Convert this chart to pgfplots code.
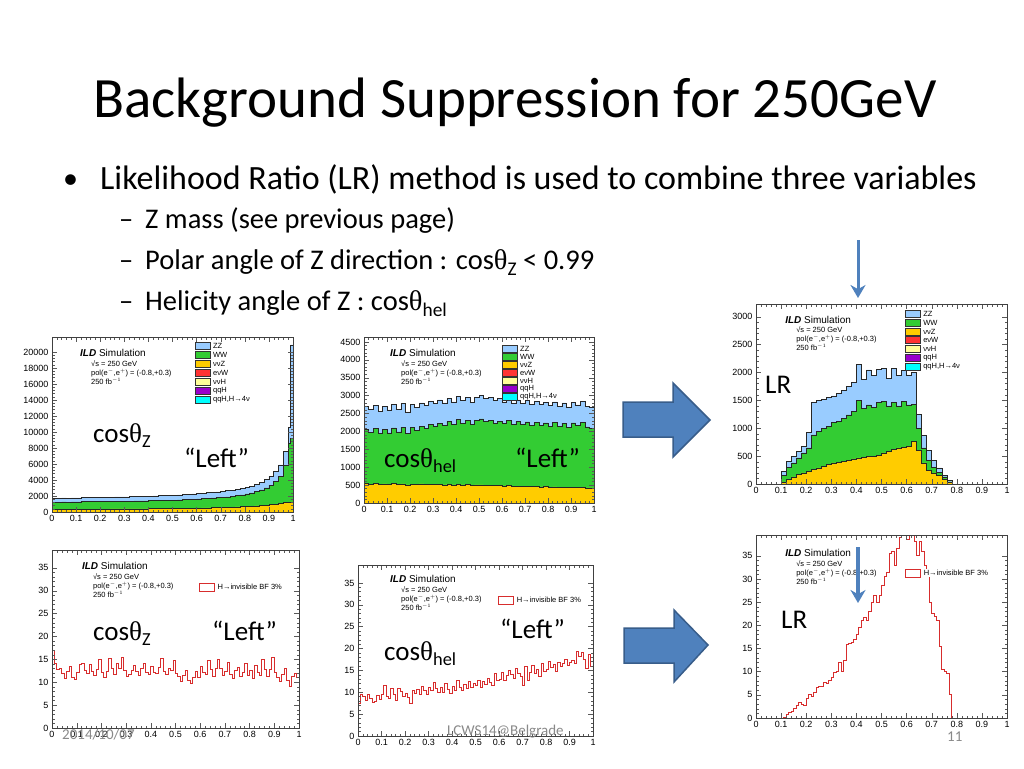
\documentclass[border=0pt]{standalone}
\usepackage{pgfplots}
\pgfplotsset{compat=1.18}
\usepackage{pgfplotstable}
\usepackage{graphicx}
\usepackage{fontspec}
\setmainfont{Carlito}
\newfontfamily\rootfont{Liberation Sans}
\newfontfamily\symfont{Liberation Serif}
\usetikzlibrary{arrows.meta}

\definecolor{zzc}{RGB}{153,204,255}
\definecolor{wwc}{RGB}{51,204,51}
\definecolor{vvzc}{RGB}{255,204,0}
\definecolor{evwc}{RGB}{255,51,51}
\definecolor{vvhc}{RGB}{255,255,153}
\definecolor{qqhc}{RGB}{153,0,204}
\definecolor{qq4c}{RGB}{0,255,255}
\definecolor{sigc}{RGB}{215,45,45}
\definecolor{arrowc}{RGB}{79,129,189}
\definecolor{arrowdk}{RGB}{56,93,138}
\definecolor{footc}{RGB}{137,137,137}

\newcommand\thet{{\symfont θ}}
\newcommand\sub[1]{\raisebox{-0.22em}{\scalebox{0.68}{#1}}}

% stacked backgrounds, cumulative: V = vvZ, W = vvZ+WW, T = total (with ZZ)
\pgfplotstableread{
x V W T
0.00 350 1250 1750
0.02 340 1230 1700
0.04 360 1270 1760
0.06 350 1250 1730
0.08 360 1280 1780
0.10 355 1270 1760
0.12 360 1290 1790
0.14 365 1300 1810
0.16 360 1290 1800
0.18 370 1310 1830
0.20 370 1320 1840
0.22 375 1310 1830
0.24 380 1330 1860
0.26 380 1340 1880
0.28 385 1350 1890
0.30 390 1360 1900
0.32 390 1370 1920
0.34 395 1380 1940
0.36 400 1390 1950
0.38 400 1400 1970
0.40 410 1420 1990
0.42 410 1430 2010
0.44 420 1450 2040
0.46 425 1460 2060
0.48 430 1480 2090
0.50 440 1500 2110
0.52 450 1520 2150
0.54 460 1550 2180
0.56 470 1580 2220
0.58 480 1610 2270
0.60 500 1650 2320
0.62 510 1690 2370
0.64 520 1730 2420
0.66 535 1770 2470
0.68 550 1810 2530
0.70 560 1850 2590
0.72 580 1900 2660
0.74 600 1970 2740
0.76 630 2050 2830
0.78 660 2150 2940
0.80 690 2260 3070
0.82 730 2400 3250
0.84 770 2560 3470
0.86 820 2760 3740
0.88 870 3020 4080
0.90 930 3350 4500
0.92 1000 3800 5050
0.94 1080 4500 5900
0.96 1160 5800 7600
0.98 1240 8600 10600
0.99 1280 9200 20900
1.00 1280 9200 20900
}\tabZ

\pgfplotstableread{
x V W T
0.00 540 2050 2700
0.02 530 1980 2620
0.04 545 2080 2720
0.06 520 1950 2560
0.08 535 2060 2700
0.10 525 1960 2600
0.12 540 2100 2750
0.14 515 1990 2620
0.16 535 2120 2780
0.18 510 1950 2550
0.20 530 2110 2760
0.22 520 2040 2680
0.24 535 2150 2800
0.26 520 2080 2720
0.28 530 2200 2850
0.30 515 2150 2780
0.32 525 2230 2880
0.34 510 2170 2800
0.36 525 2280 2920
0.38 510 2200 2830
0.40 520 2330 2980
0.42 505 2220 2870
0.44 515 2300 2950
0.46 500 2200 2820
0.48 510 2310 2960
0.50 505 2350 3000
0.52 500 2280 2930
0.54 495 2310 2960
0.56 485 2230 2870
0.58 490 2280 2920
0.60 480 2220 2830
0.62 485 2300 2900
0.64 470 2200 2800
0.66 475 2280 2880
0.68 465 2190 2780
0.70 470 2270 2870
0.72 460 2180 2760
0.74 465 2260 2850
0.76 450 2170 2750
0.78 455 2240 2820
0.80 445 2150 2720
0.82 450 2250 2830
0.84 440 2140 2700
0.86 445 2230 2800
0.88 435 2120 2690
0.90 440 2240 2820
0.92 430 2180 2740
0.94 435 2260 2850
0.96 425 2130 2700
0.98 420 2080 2680
1.00 420 2080 2680
}\tabH

\pgfplotstableread{
x V W T
0.00 0 0 0
0.02 0 0 0
0.04 0 0 0
0.06 0 0 0
0.08 0 0 0
0.10 40 150 220
0.12 80 300 400
0.14 130 380 490
0.16 170 470 580
0.18 200 560 680
0.20 220 650 920
0.22 260 880 1460
0.24 290 950 1500
0.26 320 1000 1520
0.28 350 1040 1550
0.30 380 1100 1580
0.32 390 1130 1620
0.34 400 1180 1680
0.36 420 1240 1750
0.38 450 1300 1830
0.40 470 1500 2150
0.42 480 1360 1880
0.44 490 1420 2050
0.46 500 1380 1950
0.48 520 1460 2060
0.50 560 1480 2080
0.52 580 1400 1900
0.54 620 1460 2070
0.56 650 1400 1950
0.58 660 1480 2040
0.60 680 1420 1960
0.62 760 1430 2000
0.64 600 1000 1250
0.66 380 650 870
0.68 250 420 600
0.70 200 300 430
0.72 150 210 290
0.74 90 130 160
0.76 40 40 70
0.78 0 0 0
0.80 0 0 0
0.82 0 0 0
0.84 0 0 0
0.86 0 0 0
0.88 0 0 0
0.90 0 0 0
0.92 0 0 0
0.94 0 0 0
0.96 0 0 0
0.98 0 0 0
1.00 0 0 0
}\tabL

% signal H->invisible: a = cos thetaZ, b = cos theta_hel, c = LR
\pgfplotstableread{
x a b c
0.00 17.0 7.5 0
0.01 14.2 9.5 0
0.02 12.8 9.0 0
0.03 13.1 8.2 0
0.04 12.0 9.6 0
0.05 10.8 8.6 0
0.06 12.3 7.6 0
0.07 13.5 7.8 0
0.08 11.1 9.2 0
0.09 10.6 8.3 0
0.10 12.1 9.4 0
0.11 13.8 11.5 0.2
0.12 14.0 9.0 0.7
0.13 12.6 8.5 1.2
0.14 11.9 10.8 1.5
0.15 13.9 9.6 2.0
0.16 12.4 8.2 2.8
0.17 11.4 10.9 3.3
0.18 12.8 10.2 3.0
0.19 14.9 9.1 2.6
0.20 12.2 9.8 4.2
0.21 11.1 8.9 5.0
0.22 12.4 7.5 4.6
0.23 15.1 10.4 5.5
0.24 13.0 9.7 6.5
0.25 11.8 10.6 6.8
0.26 14.2 9.5 6.9
0.27 12.9 11.3 7.6
0.28 15.5 10.3 7.4
0.29 12.6 9.6 8.2
0.30 11.2 11.0 8.8
0.31 11.8 10.5 9.8
0.32 12.5 12.3 10.1
0.33 13.6 10.8 12.0
0.34 12.3 9.9 10.0
0.35 11.4 11.2 12.5
0.36 12.9 10.0 15.8
0.37 14.1 11.9 16.0
0.38 12.2 10.6 16.4
0.39 11.6 9.8 17.0
0.40 13.4 11.4 18.0
0.41 12.1 10.3 19.5
0.42 11.9 12.6 21.0
0.43 13.2 11.1 21.8
0.44 15.2 10.5 21.0
0.45 12.4 11.8 23.0
0.46 11.7 10.9 25.0
0.47 13.0 12.4 26.5
0.48 12.5 11.2 25.0
0.49 14.8 12.1 26.5
0.50 12.0 11.5 28.5
0.51 11.3 12.8 30.5
0.52 10.2 11.0 31.5
0.53 11.4 12.5 35.5
0.54 12.6 11.8 36.0
0.55 10.4 13.1 33.0
0.56 9.8 12.2 36.5
0.57 11.1 11.6 39.0
0.58 12.4 14.2 41.0
0.59 11.0 12.6 40.0
0.60 13.5 13.0 38.5
0.61 12.2 14.5 39.5
0.62 11.6 12.8 40.5
0.63 14.7 13.9 38.0
0.64 12.8 15.0 35.0
0.65 11.3 14.0 38.0
0.66 12.9 13.2 36.0
0.67 15.0 15.5 33.0
0.68 13.1 14.2 30.5
0.69 11.5 13.6 25.0
0.70 12.3 11.5 22.5
0.71 14.4 15.8 22.0
0.72 11.8 12.6 21.0
0.73 10.9 14.6 15.5
0.74 12.6 16.2 10.5
0.75 13.3 14.4 10.0
0.76 11.2 15.2 9.5
0.77 12.1 13.7 5.0
0.78 14.0 16.5 0
0.79 11.4 14.8 0
0.80 12.5 15.3 0
0.81 10.8 17.0 0
0.82 13.6 15.6 0
0.83 12.2 16.4 0
0.84 11.5 14.8 0
0.85 14.9 16.9 0
0.86 12.7 15.9 0
0.87 11.3 16.5 0
0.88 12.8 17.6 0
0.89 15.3 16.2 0
0.90 12.1 16.8 0
0.91 11.0 17.2 0
0.92 10.2 16.5 0
0.93 11.6 19.3 0
0.94 12.9 18.1 0
0.95 10.4 19.0 0
0.96 9.0 17.6 0
0.97 11.2 15.5 0
0.98 11.9 18.7 0
0.99 11.0 16.0 0
1.00 11.0 16.0 0
}\tabS

\pgfplotsset{
  rootax/.style={
    scale only axis, axis on top, anchor=south west,
    xmin=0, xmax=1, ymin=0,
    xtick={0,0.1,0.2,0.3,0.4,0.5,0.6,0.7,0.8,0.9,1},
    minor x tick num=4, minor y tick num=4,
    tick align=inside, tick pos=both,
    xticklabel pos=lower, yticklabel pos=left,
    major tick length=5pt, minor tick length=2.5pt,
    axis line style={black!75, line width=0.5pt},
    every tick/.append style={black!65, line width=0.4pt},
    tick label style={font=\rootfont\fontsize{9}{10}\selectfont},
    scaled ticks=false,
    /pgf/number format/assume math mode=true,
    /pgf/number format/1000 sep={},
  },
  bkg/.style={const plot, draw=black!85, line width=0.5pt},
  sig/.style={const plot, draw=sigc, line width=1pt},
}

% ILD label block at (relx, rely) = baseline of "ILD Simulation"
\newcommand\ildinfo[2]{%
  \node[anchor=base west, inner sep=0, font=\rootfont\fontsize{10}{12}\selectfont]
    at (rel axis cs:#1,#2) {\textbf{\textit{ILD}} Simulation};
  \node[anchor=north west, inner sep=0, align=left, font=\rootfont\fontsize{7.5}{9}\selectfont]
    at ([xshift=11pt,yshift=-3pt]rel axis cs:#1,#2)
    {√s = 250 GeV\\pol(e$^{-}$,e$^{+}$) = (-0.8,+0.3)\\250 fb$^{-1}$};
}
% background legend: relx, rely of first box centre, row step
\newcommand\legrow[5]{%
  \node[draw=black!80, line width=0.4pt, fill=#4, minimum width=15pt, minimum height=7pt,
        inner sep=0, anchor=west] at ([yshift=-#3]rel axis cs:#1,#2) {};
  \node[anchor=west, inner sep=0, font=\rootfont\fontsize{7.5}{8}\selectfont]
    at ([xshift=18pt,yshift=-#3]rel axis cs:#1,#2) {#5};
}
\newcommand\bkglegend[3]{%
  \legrow{#1}{#2}{0*#3}{zzc}{ZZ}
  \legrow{#1}{#2}{1*#3}{wwc}{WW}
  \legrow{#1}{#2}{2*#3}{vvzc}{ννZ}
  \legrow{#1}{#2}{3*#3}{evwc}{eνW}
  \legrow{#1}{#2}{4*#3}{vvhc}{ννH}
  \legrow{#1}{#2}{5*#3}{qqhc}{qqH}
  \legrow{#1}{#2}{6*#3}{qq4c}{qqH,H→4ν}
}
\newcommand\siglegend[2]{%
  \node[anchor=west, inner sep=1.5pt, fill=white, font=\rootfont\fontsize{7.5}{8}\selectfont]
    at ([xshift=17pt]rel axis cs:#1,#2) {H→invisible BF 3\%};
  \node[draw=sigc, line width=0.5pt, fill=white, minimum width=15pt, minimum height=8pt,
        inner sep=0, anchor=west] at (rel axis cs:#1,#2) {};
}

\begin{document}
\begin{tikzpicture}
\path[use as bounding box] (0,0) rectangle (1024pt,-768pt);
\fill[white] (0,0) rectangle (1024pt,-768pt);

% title and bullets
\node[anchor=base west, inner sep=0, font=\fontsize{57}{66}\selectfont] at (93pt,-117pt)
  {Background Suppression for 250GeV};
\node[anchor=base west, inner sep=0, font=\fontsize{30}{36}\selectfont] at (63pt,-188pt) {•};
\node[anchor=base west, inner sep=0, font=\fontsize{34}{40}\selectfont] at (100pt,-189pt)
  {Likelihood Ratio (LR) method is used to combine three variables};
\begin{scope}[every node/.style={anchor=base west, inner sep=0, font=\fontsize{28.5}{34}\selectfont}]
\node at (119pt,-228pt) {–};
\node at (145pt,-228pt) {Z mass (see previous page)};
\node at (119pt,-269pt) {–};
\node at (145pt,-269pt) {Polar angle of Z direction : cos\thet\sub{Z} < 0.99};
\node at (119pt,-310pt) {–};
\node at (145pt,-310pt) {Helicity angle of Z : cos\thet\sub{hel}};
\end{scope}

% top row: backgrounds
\begin{axis}[rootax, at={(52pt,-512pt)}, width=241pt, height=175pt, ymax=21875,
  ytick={0,2000,4000,6000,8000,10000,12000,14000,16000,18000,20000}]
\addplot[bkg, fill=zzc] table[x=x,y=T]{\tabZ} \closedcycle;
\addplot[bkg, fill=wwc] table[x=x,y=W]{\tabZ} \closedcycle;
\addplot[bkg, fill=vvzc] table[x=x,y=V]{\tabZ} \closedcycle;
\ildinfo{0.116}{0.886}
\bkglegend{0.593}{0.949}{9pt}
\end{axis}

\begin{axis}[rootax, at={(364pt,-503pt)}, width=230pt, height=166pt, ymax=4640,
  ytick={0,500,1000,1500,2000,2500,3000,3500,4000,4500}]
\addplot[bkg, fill=zzc] table[x=x,y=T]{\tabH} \closedcycle;
\addplot[bkg, fill=wwc] table[x=x,y=W]{\tabH} \closedcycle;
\addplot[bkg, fill=vvzc] table[x=x,y=V]{\tabH} \closedcycle;
\ildinfo{0.113}{0.88}
\bkglegend{0.6}{0.928}{8pt}
\end{axis}

\begin{axis}[rootax, at={(756pt,-484pt)}, width=251pt, height=180pt, ymax=3230,
  ytick={0,500,1000,1500,2000,2500,3000}]
\addplot[bkg, fill=zzc] table[x=x,y=T]{\tabL} \closedcycle;
\addplot[bkg, fill=wwc] table[x=x,y=W]{\tabL} \closedcycle;
\addplot[bkg, fill=vvzc] table[x=x,y=V]{\tabL} \closedcycle;
\ildinfo{0.116}{0.894}
\bkglegend{0.594}{0.944}{8.7pt}
\end{axis}

% bottom row: signal
\begin{axis}[rootax, at={(52pt,-728pt)}, width=247pt, height=178pt, ymax=38.9,
  ytick={0,5,10,15,20,25,30,35}]
\addplot[sig] table[x=x,y=a]{\tabS};
\ildinfo{0.121}{0.888}
\siglegend{0.595}{0.792}
\end{axis}

\begin{axis}[rootax, at={(358pt,-736pt)}, width=235pt, height=171pt, ymax=39.1,
  ytick={0,5,10,15,20,25,30,35}]
\addplot[sig] table[x=x,y=b]{\tabS};
\ildinfo{0.136}{0.895}
\siglegend{0.596}{0.795}
\end{axis}

\begin{axis}[rootax, at={(756pt,-718pt)}, width=251pt, height=183pt, ymax=39.5,
  ytick={0,5,10,15,20,25,30,35}]
\addplot[sig] table[x=x,y=c]{\tabS};
\ildinfo{0.116}{0.88}
\siglegend{0.594}{0.792}
\end{axis}

% overlay labels
\begin{scope}[every node/.style={anchor=base west, inner sep=0, font=\fontsize{27}{32}\selectfont}]
\node at (93pt,-442pt) {cos\thet\sub{Z}};
\node at (184pt,-467pt) {“Left”};
\node at (384pt,-467pt) {cos\thet\sub{hel}};
\node at (515pt,-467pt) {“Left”};
\node at (765pt,-393pt) {LR};
\node at (93pt,-640pt) {cos\thet\sub{Z}};
\node at (212pt,-640pt) {“Left”};
\node at (500pt,-638pt) {“Left”};
\node at (384pt,-660pt) {cos\thet\sub{hel}};
\node at (781pt,-628pt) {LR};
\end{scope}

% arrows
\draw[fill=arrowc, draw=arrowdk, line width=1.5pt]
  (623pt,-402pt) -- (673pt,-402pt) -- (673pt,-383pt) -- (710pt,-420pt)
  -- (673pt,-457pt) -- (673pt,-437pt) -- (623pt,-437pt) -- cycle;
\draw[fill=arrowc, draw=arrowdk, line width=1.5pt]
  (624pt,-628pt) -- (674pt,-628pt) -- (674pt,-610pt) -- (708pt,-645pt)
  -- (674pt,-682pt) -- (674pt,-663pt) -- (624pt,-663pt) -- cycle;
\draw[arrowc, line width=3pt, -{Stealth[length=13pt,width=15pt]}] (858pt,-240pt) -- (858pt,-298pt);
\draw[arrowc, line width=3.5pt, -{Stealth[length=13pt,width=15pt]}] (858pt,-547pt) -- (858pt,-603pt);

% footer
\begin{scope}[every node/.style={anchor=base west, inner sep=0, text=footc, font=\fontsize{15}{18}\selectfont}]
\node at (62pt,-739pt) {2014/10/07};
\node at (447pt,-735pt) {LCWS14@Belgrade};
\node at (947pt,-741pt) {11};
\end{scope}
\end{tikzpicture}
\end{document}
